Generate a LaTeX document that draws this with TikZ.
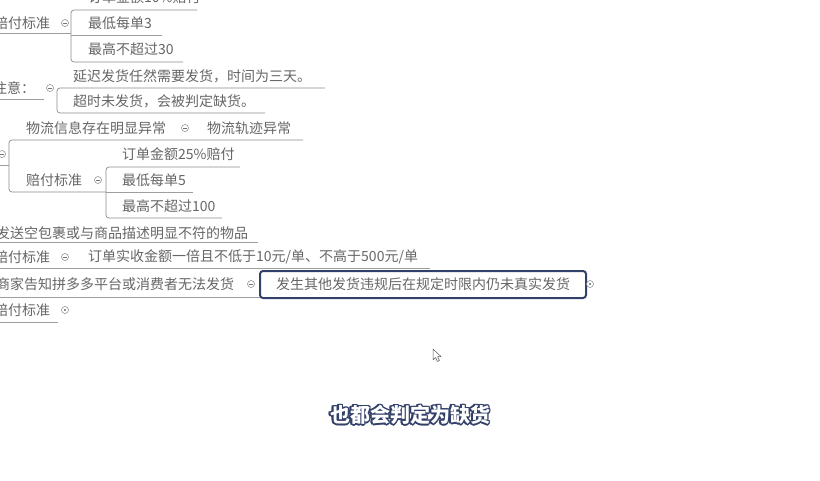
\documentclass[tikz,border=0pt]{standalone}
\usepackage{fontspec}
\setmainfont{Noto Sans CJK SC}
\definecolor{navy}{HTML}{33406A}
\begin{document}
\begin{tikzpicture}[x=1pt,y=-1pt,
  txt/.style={anchor=west,inner sep=0pt,font=\fontsize{14}{14}\selectfont,text=black!60},
  uline/.style={draw=black!38,line width=0.7pt},
  brk/.style={draw=black!45,line width=0.7pt,rounded corners=3pt},
  tog/.style={circle,draw=black!50,fill=white,minimum size=7pt,inner sep=0pt,line width=0.5pt},
  minus/.style={path picture={\draw[black!55,line width=0.5pt] ([xshift=-2pt]path picture bounding box.center) -- ([xshift=2pt]path picture bounding box.center);}},
  dot/.style={path picture={\fill[black!60] (path picture bounding box.center) circle (1.2pt);}},
  hilite/.style={draw=navy,line width=2pt,rounded corners=3pt,fill=white,minimum width=326pt,minimum height=27pt,inner sep=0pt,font=\fontsize{14}{14}\selectfont,text=black!60},
  captxt/.style={font=\fontsize{20}{20}\selectfont\bfseries,inner sep=0pt},
]
\useasboundingbox[fill=white] (0,0) rectangle (820,480);

% ---- group A
\draw[uline] (0,33) -- (71,33);
\draw[brk] (197,10) -- (71,10) -- (71,62) -- (183,62);
\draw[uline] (71,35) -- (162,35);
\node[txt] (a0) at (88,-3) {订单金额10\%赔付};
\node[txt] (a1) at (-6,23) {赔付标准};
\node[tog,minus] (ac) at (65,23) {};
\node[txt] (a2) at (88,23) {最低每单3};
\node[txt] (a3) at (88,49) {最高不超过30};

% ---- group B
\draw[uline] (0,99) -- (44,99);
\draw[brk] (325,88) -- (57,88) -- (57,113) -- (265,113);
\node[txt] (b1) at (-7,88) {注意：};
\node[tog,minus] (bc) at (50,88) {};
\node[txt] (b2) at (73,76) {延迟发货任然需要发货，时间为三天。};
\node[txt] (b3) at (73,101) {超时未发货，会被判定缺货。};

% ---- group C
\draw[uline] (0,165) -- (9,165);
\draw[brk] (303,140) -- (9,140) -- (9,192) -- (106,192);
\node[tog,minus] (cc) at (2,154) {};
\node[txt] (c1) at (26,128) {物流信息存在明显异常};
\node[tog,minus] (cc1) at (185,128) {};
\node[txt] (c2) at (207,128) {物流轨迹异常};
\node[txt] (c3) at (26,180) {赔付标准};
\node[tog,minus] (cc3) at (98,180) {};
\draw[brk] (240,167) -- (106,167) -- (106,218) -- (222,218);
\draw[uline] (106,192) -- (193,192);
\node[txt] (c4) at (122,154) {订单金额25\%赔付};
\node[txt] (c5) at (122,180) {最低每单5};
\node[txt] (c6) at (122,206) {最高不超过100};

% ---- group D
\draw[uline] (0,242) -- (258,242);
\node[txt] (d1) at (-4,233) {发送空包裹或与商品描述明显不符的物品};
\draw[uline] (0,268) -- (430,268);
\node[txt] (d2) at (-6,257) {赔付标准};
\node[tog,minus] (dc2) at (65,257) {};
\node[txt] (d3) at (88,257) {订单实收金额一倍且不低于10元/单、不高于500元/单};
\draw[uline] (0,297) -- (260,297);
\node[txt] (d4) at (-4,284) {商家告知拼多多平台或消费者无法发货};
\node[tog,minus] (dc4) at (251,284) {};
\node[hilite] (d5) at (423,284.5) {发生其他发货违规后在规定时限内仍未真实发货};
\node[tog,dot] (dc5) at (590,284) {};
\draw[uline] (0,322) -- (58,322);
\node[txt] (d6) at (-6,310) {赔付标准};
\node[tog,dot] (dc6) at (65,310) {};

% ---- cursor
\draw[black!65,fill=white,line width=0.5pt,line join=round] (433,349) -- (433,360) -- (435.5,357.5) -- (437.5,361.5) -- (439.5,360.5) -- (437.5,356.5) -- (441,356.5) -- cycle;

% ---- caption (white text with navy outline)
\foreach \a in {0,30,...,330}{
  \node[captxt,text=navy] at ([shift={(\a:1.4pt)}]410,415) {也都会判定为缺货};
}
\node[captxt,text=white] (cap) at (410,415) {也都会判定为缺货};
\end{tikzpicture}
\end{document}
